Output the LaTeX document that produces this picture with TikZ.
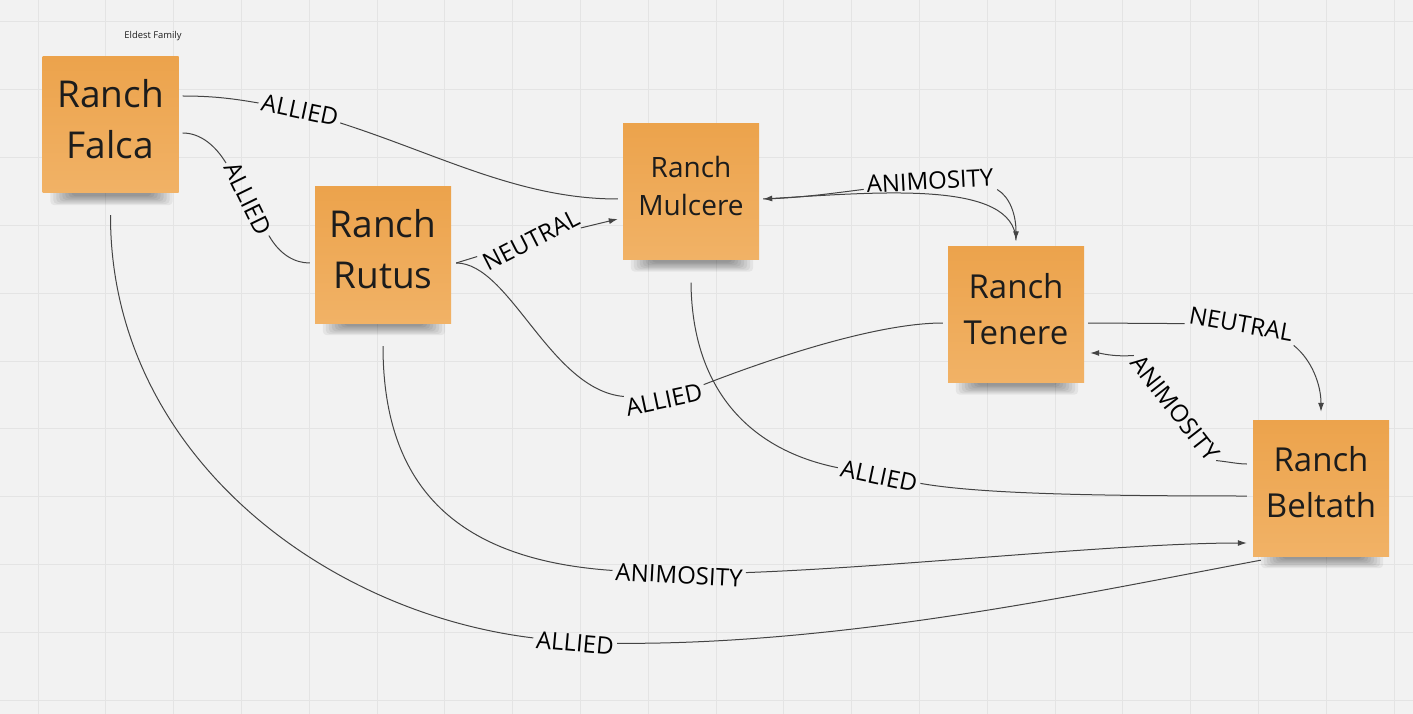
\documentclass[tikz,border=0pt]{standalone}
\usepackage{fontspec}
\setmainfont{Open Sans}
\usetikzlibrary{arrows.meta,backgrounds}
\definecolor{board}{RGB}{242,242,242}
\definecolor{gridline}{RGB}{228,228,228}
\definecolor{noteTop}{RGB}{236,163,76}
\definecolor{noteBot}{RGB}{241,178,102}
\definecolor{noteText}{RGB}{28,28,28}
\definecolor{linkGray}{RGB}{68,68,68}
\begin{document}
\begin{tikzpicture}[
  x=1pt,y=-1pt,
  note/.style={minimum width=136pt,minimum height=136pt,inner sep=0pt,align=center,text depth=12pt,
    top color=noteTop,bottom color=noteBot,text=noteText},
  huge/.style={font=\fontsize{37}{51}\selectfont},
  mid/.style={font=\fontsize{28}{38}\selectfont},
  large/.style={font=\fontsize{33}{46}\selectfont},
  lbl/.style={font=\fontsize{24}{28}\selectfont,inner sep=3pt,text=black},
  link/.style={draw=linkGray,line width=1pt},
  arr/.style={link,-{Latex[length=9pt,width=6pt]}},
  haze/.style={fill=black,opacity=.055,rounded corners=4pt}
]
\useasboundingbox (0,0) rectangle (1413,714);
\begin{scope}[on background layer]
\fill[board] (0,0) rectangle (1413,714);
\foreach \gx in {0,...,20}
  \draw[gridline,line width=1pt] ({38+67.8*\gx},0) -- ({38+67.8*\gx},714);
\foreach \gy in {0,...,10}
  \draw[gridline,line width=1pt] (0,{22+67.8*\gy}) -- (1413,{22+67.8*\gy});
\end{scope}

\node[font=\fontsize{9.4}{11}\selectfont,text=noteText] (eldest) at (153,36) {Eldest Family};

\node[note,huge] (falca) at (110.5,125) {Ranch\\Falca};
\node[note,huge] (rutus) at (383,255) {Ranch\\Rutus};
\node[note,mid] (mulcere) at (691,191.5) {Ranch\\Mulcere};
\node[note,large] (tenere) at (1016,314.5) {Ranch\\Tenere};
\node[note,large] (beltath) at (1321,488) {Ranch\\Beltath};

\begin{scope}[on background layer]
\foreach \nt in {falca,rutus,mulcere,tenere,beltath}
  \foreach \k in {0,...,7}
    \fill[haze] ([xshift={(8+3*\k)*1pt},yshift=10pt]\nt.south west)
      rectangle ([xshift={(-6-3*\k)*1pt},yshift={(-12+1.3*\k)*1pt}]\nt.south east);
\end{scope}

\node[lbl,rotate=-12] (l1) at (300,110) {ALLIED};
\node[lbl,rotate=-64] (l2) at (248,199) {ALLIED};
\node[lbl,rotate=27] (l3) at (531,240) {NEUTRAL};
\node[lbl,rotate=3] (l4) at (930,181) {ANIMOSITY};
\node[lbl,rotate=12] (l5) at (664,400) {ALLIED};
\node[lbl,rotate=-10] (l6) at (1241,324) {NEUTRAL};
\node[lbl,rotate=-52] (l7) at (1175,408) {ANIMOSITY};
\node[lbl,rotate=-12] (l8) at (879,476) {ALLIED};
\node[lbl,rotate=-3] (l9) at (679,575) {ANIMOSITY};
\node[lbl,rotate=-5] (l10) at (575,643) {ALLIED};

\draw[link] ([xshift=4pt,yshift=29pt]falca.east) .. controls (215,96) and (235,99) .. (l1);
\draw[link] (l1) .. controls (440,155) and (520,199) .. ([xshift=-5pt,yshift=-7.5pt]mulcere.west);
\draw[link] ([xshift=4pt,yshift=-8pt]falca.east) .. controls (200,133) and (215,145) .. (l2);
\draw[link] (l2) .. controls (280,255) and (295,263) .. ([xshift=-5pt,yshift=-8pt]rutus.west);
\draw[link] ([xshift=5pt,yshift=-8pt]rutus.east) -- (l3);
\draw[arr] (l3) -- ([xshift=-5pt,yshift=-27.5pt]mulcere.west);
\draw[link] ([xshift=4pt,yshift=-7.5pt]mulcere.east) .. controls (800,198) and (835,193) .. (l4);
\draw[arr] (l4.south east) .. controls (1010,197) and (1016,215) .. ([yshift=6pt]tenere.north);
\draw[arr] ([yshift=6pt]tenere.north) .. controls (1014,180) and (880,192) .. ([xshift=4pt,yshift=-7.5pt]mulcere.east);
\draw[link] ([xshift=5pt,yshift=-8pt]rutus.east) .. controls (510,263) and (550,390) .. (l5);
\draw[link] (l5) .. controls (780,355) and (880,323) .. ([xshift=-5pt,yshift=-8.5pt]tenere.west);
\draw[link] ([xshift=4pt,yshift=-8.5pt]tenere.east) -- (l6);
\draw[arr] (l6.south east) .. controls (1312,360) and (1321,385) .. ([yshift=8pt]beltath.north);
\draw[link] ([xshift=-6pt,yshift=24pt]beltath.west) .. controls (1238,464) and (1230,462) .. (l7.east);
\draw[arr] (l7.west) .. controls (1112,357) and (1100,353) .. ([xshift=6pt,yshift=-38.5pt]tenere.east);
\draw[link] ([yshift=-23pt]mulcere.south) .. controls (692,390) and (750,450) .. (l8);
\draw[link] (l8) .. controls (980,494) and (1100,496) .. ([xshift=-6pt,yshift=-8pt]beltath.west);
\draw[link] ([yshift=-23pt]rutus.south) .. controls (383,490) and (460,560) .. (l9);
\draw[arr] (l9) .. controls (900,567) and (1120,543) .. ([xshift=-6pt,yshift=-55pt]beltath.west);
\draw[link] ([yshift=-22pt]falca.south) .. controls (110,450) and (320,612) .. (l10);
\draw[link] (l10) .. controls (850,645) and (1100,590) .. ([xshift=8pt,yshift=-4pt]beltath.south west);
\end{tikzpicture}
\end{document}
